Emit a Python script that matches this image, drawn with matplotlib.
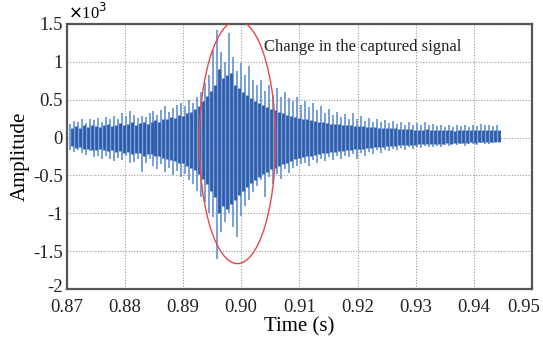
import numpy as np
import matplotlib
matplotlib.use("Agg")
import matplotlib.pyplot as plt
from matplotlib.patches import Ellipse
from matplotlib.transforms import ScaledTranslation

# spike peaks (raw amplitude, shown in units of 10^3)
t_start, t_end = 0.8705, 0.9440
spike_hi = [180, 220, 200, 240, 190, 250, 230, 260, 210, 270, 240, 280, 250, 320, 280, 350,
            300, 260, 290, 270, 320, 350, 300, 370, 410, 340, 390, 430, 460, 420, 500, 450,
            540, 600, 720, 820, 1150, 1420, 1130, 1000, 1380, 1070, 880, 980, 820, 950, 760, 690,
            760, 620, 700, 560, 660, 540, 600, 520, 480, 540, 430, 480, 400, 460, 360, 420,
            330, 380, 300, 340, 270, 310, 250, 330, 240, 280, 220, 260, 210, 240, 200, 230,
            190, 220, 180, 210, 170, 200, 160, 190, 170, 200, 160, 180, 150, 170, 140, 160,
            140, 170, 150, 160, 140, 170, 150, 180, 160, 170, 150, 160]
spike_lo = [-170, -190, -160, -200, -230, -180, -260, -240, -280, -250, -290, -310, -270, -300, -250, -340,
            -320, -280, -460, -330, -290, -380, -420, -350, -460, -400, -500, -440, -520, -480, -560, -620,
            -700, -780, -850, -990, -1050, -1600, -1250, -1120, -990, -1180, -1320, -1040, -900, -820, -720, -640,
            -560, -780, -520, -620, -480, -550, -420, -470, -400, -380, -350, -330, -370, -300, -340, -280,
            -310, -260, -300, -250, -280, -240, -260, -220, -290, -200, -240, -190, -220, -170, -200, -160,
            -180, -150, -170, -140, -160, -130, -150, -120, -140, -110, -130, -120, -110, -130, -100, -110,
            -90, -100, -80, -110, -90, -80, -100, -70, -90, -80, -70, -60]

# dense dark core between the spikes
core_hi = [120, 150, 130, 160, 140, 170, 150, 140, 160, 180, 150, 170, 190, 160, 180, 200, 170, 190, 210, 180,
           200, 230, 210, 250, 240, 270, 260, 300, 280, 320, 340, 380,
           420, 480, 550, 620, 700,
           900, 780, 820, 850, 700, 650, 600,
           560, 520, 480, 450,
           430, 400, 380, 360, 340, 320, 300, 290, 270, 260,
           250, 240, 230, 220, 210, 200, 190, 185, 180, 175, 170, 165,
           160, 155, 150, 150, 145, 140, 135, 130, 130, 125, 120, 120, 115, 115, 110, 110, 105, 105,
           100, 110, 100, 105, 95, 100, 95, 100, 90, 100, 95, 105, 95, 100, 95, 105, 100, 100, 95, 100]
core_lo = [-110, -140, -120, -150, -150, -160, -170, -150, -170, -180, -170, -190, -180, -200, -190, -220, -200, -210, -240, -220,
           -220, -250, -240, -270, -280, -300, -310, -340, -330, -370, -400, -430,
           -480, -550, -620, -700, -780,
           -1000, -900, -950, -880, -820, -760, -700,
           -650, -600, -560, -520,
           -480, -450, -420, -400, -370, -350, -330, -310, -290, -270,
           -260, -250, -240, -230, -220, -210, -200, -190, -185, -180, -175, -170,
           -160, -155, -150, -145, -140, -135, -130, -125, -120, -115, -110, -110, -105, -100, -100, -95, -95, -90,
           -90, -85, -90, -80, -85, -80, -75, -80, -70, -75, -70, -70, -65, -70, -60, -65, -60, -60, -55, -55]

x_ticks = [0.87, 0.88, 0.89, 0.90, 0.91, 0.92, 0.93, 0.94, 0.95]
x_labels = ["0.87", "0.88", "0.89", "0.90", "0.91", "0.92", "0.93", "0.94", "0.95"]
y_ticks = [-2000, -1500, -1000, -500, 0, 500, 1000, 1500]
y_labels = ["-2", "-1.5", "-1", "-0.5", "0", "0.5", "1", "1.5"]

plt.rcParams["font.family"] = ["Liberation Serif", "DejaVu Serif"]

fig = plt.figure(figsize=(5.43, 3.42), dpi=100)
ax = fig.add_axes([0.1228, 0.155, 0.857, 0.775])

spike_t = np.linspace(t_start, t_end, len(spike_hi))
half_step = (spike_t[1] - spike_t[0]) / 2
ax.vlines(spike_t, spike_lo, spike_hi, color="#6d99d8", linewidth=1.3, zorder=2)
ax.vlines(spike_t + half_step, core_lo, core_hi, color="#2c5ca9", linewidth=2.0, zorder=3)

ax.add_patch(Ellipse((0.89936, -60), 0.0131, 3210, fill=False,
                     edgecolor="#e8474a", linewidth=1.0, zorder=4))
ax.text(0.90385, 1197, "Change in the captured signal", fontsize=12,
        ha="left", va="center", color="#222222", zorder=5)

ax.set_xlim(0.87, 0.95)
ax.set_ylim(-2000, 1500)
ax.set_xticks(x_ticks)
ax.set_xticklabels(x_labels)
ax.set_yticks(y_ticks)
ax.set_yticklabels(y_labels)
ax.tick_params(labelsize=13.5, direction="in", length=0, colors="#222222")
ax.tick_params(axis="x", pad=7)
ax.tick_params(axis="y", pad=3)
# nudge corner labels like the original: last x label left, bottom y label up
last = ax.get_xticklabels()[-1]
last.set_transform(last.get_transform() + ScaledTranslation(-8 / 100, 0, fig.dpi_scale_trans))
first = ax.get_yticklabels()[0]
first.set_transform(first.get_transform() + ScaledTranslation(0, 3 / 100, fig.dpi_scale_trans))

ax.grid(True, color="#9a9a9a", linestyle=(0, (1, 1.5)), linewidth=0.8, zorder=0)
ax.set_axisbelow(True)
for s in ax.spines.values():
    s.set_color("#555555")
    s.set_linewidth(1.6)

ax.set_xlabel("Time (s)", fontsize=15, labelpad=1)
ax.set_ylabel("Amplitude", fontsize=15, labelpad=2)
ax.text(0.003, 1.005, r"$\times$10$^3$", transform=ax.transAxes, fontsize=12,
        ha="left", va="bottom")

fig.savefig("out.png", dpi=100)
